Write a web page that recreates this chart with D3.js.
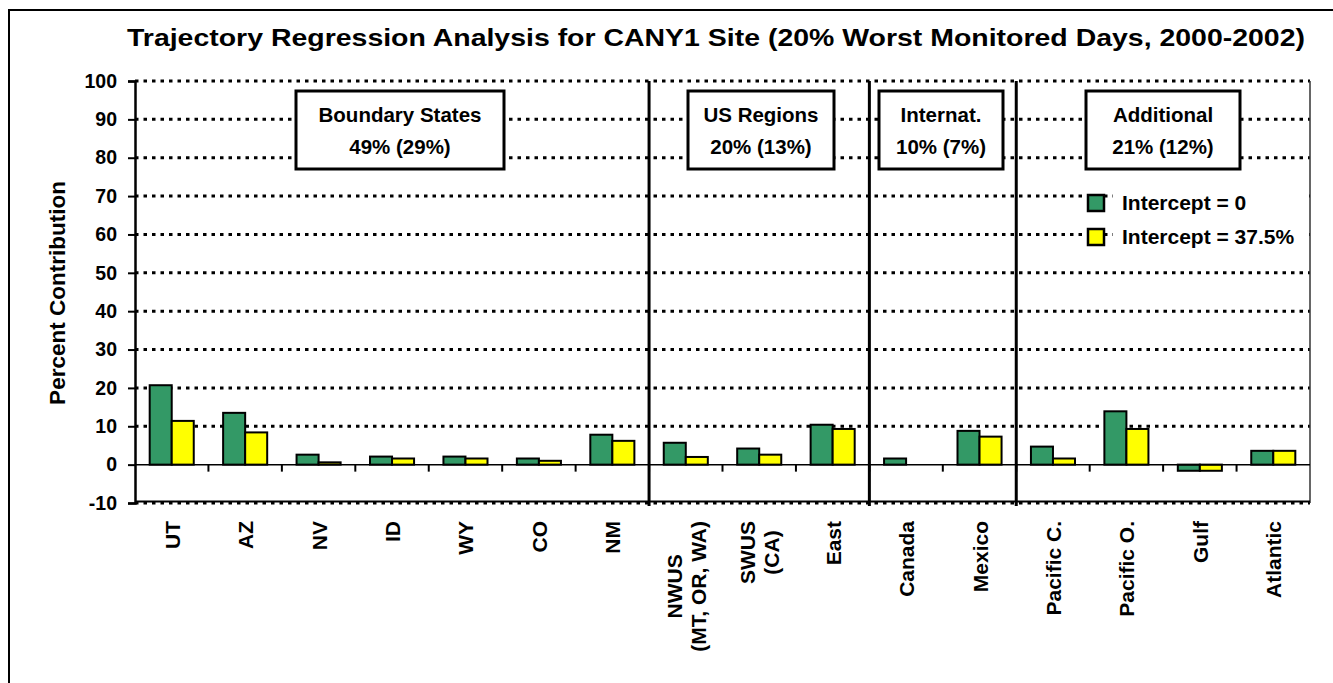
<!DOCTYPE html>
<html>
<head>
<meta charset="utf-8">
<script src="https://cdn.jsdelivr.net/npm/d3@7"></script>
<style>
  body { margin: 0; background: #fff; }
  svg text { font-family: Arial, "Liberation Sans", sans-serif; font-weight: bold; fill: #000; }
</style>
</head>
<body>
<svg width="1333" height="683"></svg>
<script>
var categories = ["UT", "AZ", "NV", "ID", "WY", "CO", "NM", "NWUS\n(MT, OR, WA)", "SWUS\n(CA)", "East",
                  "Canada", "Mexico", "Pacific C.", "Pacific O.", "Gulf", "Atlantic"];
var intercept0 = [20.7, 13.5, 2.6, 2.1, 2.1, 1.6, 7.8, 5.7, 4.2, 10.4, 1.6, 8.8, 4.7, 13.9, -1.6, 3.6];
var intercept375 = [11.4, 8.4, 0.6, 1.6, 1.6, 1.0, 6.2, 2.0, 2.6, 9.3, 0, 7.3, 1.6, 9.3, -1.6, 3.6];
var seriesNames = ["Intercept = 0", "Intercept = 37.5%"];
var yTicks = [-10, 0, 10, 20, 30, 40, 50, 60, 70, 80, 90, 100];
var groupNames = ["Boundary States", "US Regions", "Internat.", "Additional"];
var groupShares = ["49% (29%)", "20% (13%)", "10% (7%)", "21% (12%)"];
var groupFirst = [0, 7, 10, 12];

var colors = ["#339966", "#ffff00"];

(function() {
  var svg = d3.select("svg"),
      pLeft = 135, pRight = 1310, pTop = 81, pBottom = 503;

  // outer frame
  svg.append("rect")
    .attr("x", 9).attr("y", 10).attr("width", 1340).attr("height", 700)
    .attr("fill", "none").attr("stroke", "#000").attr("stroke-width", 2);

  svg.append("text")
    .attr("x", 127).attr("y", 46)
    .attr("textLength", 1178).attr("lengthAdjust", "spacingAndGlyphs")
    .style("font-size", "24.5px")
    .text("Trajectory Regression Analysis for CANY1 Site (20% Worst Monitored Days, 2000-2002)");

  var x = d3.scaleBand().domain(d3.range(categories.length)).range([pLeft, pRight]);
  var y = d3.scaleLinear().domain([-10, 100]).range([pBottom, pTop]);
  var bw = x.bandwidth();
  var barW = bw * 0.3;

  var g = svg.append("g");

  // dotted grid
  g.selectAll(".grid")
    .data(yTicks.filter(function(d) { return d !== 0; }))
    .enter().append("line")
    .attr("x1", pLeft).attr("x2", pRight)
    .attr("y1", function(d) { return y(d); }).attr("y2", function(d) { return y(d); })
    .attr("stroke", "#000").attr("stroke-width", 3).attr("stroke-dasharray", "3.5,5");

  // plot border right/bottom
  g.append("line").attr("x1", pRight).attr("x2", pRight).attr("y1", pTop).attr("y2", pBottom)
    .attr("stroke", "#333").attr("stroke-width", 1.5);
  g.append("line").attr("x1", pLeft).attr("x2", pRight).attr("y1", pBottom - 1.5).attr("y2", pBottom - 1.5)
    .attr("stroke", "#000").attr("stroke-width", 2);

  // group boxes (Excel text boxes, placed by hand)
  var boxCenter = [400, 761, 941, 1163],
      boxWidth = [208, 146, 124, 154];
  groupNames.forEach(function(name, i) {
    var cx = boxCenter[i];
    g.append("rect")
      .attr("x", cx - boxWidth[i] / 2).attr("y", 91).attr("width", boxWidth[i]).attr("height", 78)
      .attr("fill", "#fff").attr("stroke", "#000").attr("stroke-width", 3);
    g.append("text").attr("x", cx).attr("y", 122).attr("text-anchor", "middle")
      .style("font-size", "20.5px").text(name);
    g.append("text").attr("x", cx).attr("y", 154).attr("text-anchor", "middle")
      .style("font-size", "20.5px").text(groupShares[i]);
  });

  // bars
  var series = [intercept0, intercept375];
  series.forEach(function(vals, s) {
    g.selectAll(".bar" + s)
      .data(vals)
      .enter().append("rect")
      .attr("x", function(d, i) { return x(i) + bw / 2 - barW + s * barW; })
      .attr("y", function(d) { return y(Math.max(0, d)); })
      .attr("width", barW)
      .attr("height", function(d) { return Math.abs(y(d) - y(0)); })
      .attr("fill", colors[s]).attr("stroke", "#000").attr("stroke-width", 2);
  });

  // zero axis with ticks between categories
  g.append("line").attr("x1", pLeft).attr("x2", pRight).attr("y1", y(0)).attr("y2", y(0))
    .attr("stroke", "#000").attr("stroke-width", 1.5);
  g.selectAll(".xtick")
    .data(d3.range(1, categories.length))
    .enter().append("line")
    .attr("x1", function(d) { return x(d); }).attr("x2", function(d) { return x(d); })
    .attr("y1", y(0)).attr("y2", y(0) + 7)
    .attr("stroke", "#000").attr("stroke-width", 2);

  // group dividers
  g.selectAll(".divider")
    .data(groupFirst.slice(1))
    .enter().append("line")
    .attr("x1", function(d) { return x(d); }).attr("x2", function(d) { return x(d); })
    .attr("y1", pTop).attr("y2", pBottom + 3)
    .attr("stroke", "#000").attr("stroke-width", 3);

  // y axis
  svg.append("g")
    .attr("transform", "translate(" + pLeft + ",0)")
    .call(d3.axisLeft(y).tickValues(yTicks).tickSize(7).tickPadding(11)
      .tickFormat(function(d) { return String(d); }))
    .call(function(a) {
      a.select(".domain").attr("stroke-width", 2.5);
      a.selectAll(".tick line").attr("stroke-width", 2);
      a.selectAll("text").attr("font-family", null).attr("font-size", null)
        .style("font-size", "19.5px");
    });

  svg.append("text")
    .attr("transform", "translate(65," + ((pTop + pBottom) / 2 + 1) + ") rotate(-90)")
    .attr("text-anchor", "middle")
    .style("font-size", "22.5px")
    .text("Percent Contribution");

  // category labels, top aligned under the axis
  categories.forEach(function(c, i) {
    var lines = c.split("\n");
    var cx = x(i) + bw / 2;
    var lh = 24;
    var texts = lines.map(function(line, j) {
      var lx = cx + 8 + (j - (lines.length - 1) / 2) * lh;
      return svg.append("text")
        .attr("transform", "translate(" + lx + ",521) rotate(-90)")
        .attr("text-anchor", "middle")
        .style("font-size", "21px")
        .text(line);
    });
    var maxLen = d3.max(texts, function(t) { return t.node().getComputedTextLength(); });
    texts.forEach(function(t) { t.attr("x", -maxLen / 2); });
  });

  // legend
  var lg = svg.append("g");
  seriesNames.forEach(function(n, i) {
    var ly = [203, 237][i];
    lg.append("rect").attr("x", 1113).attr("y", ly - 13).attr("width", 196).attr("height", 26).attr("fill", "#fff");
    lg.append("rect").attr("x", 1088).attr("y", ly - 8).attr("width", 16).attr("height", 16)
      .attr("fill", colors[i]).attr("stroke", "#000").attr("stroke-width", 2.5);
    lg.append("text").attr("x", 1122).attr("y", ly + 7).style("font-size", "21px").text(n);
  });
})();
</script>
</body>
</html>
